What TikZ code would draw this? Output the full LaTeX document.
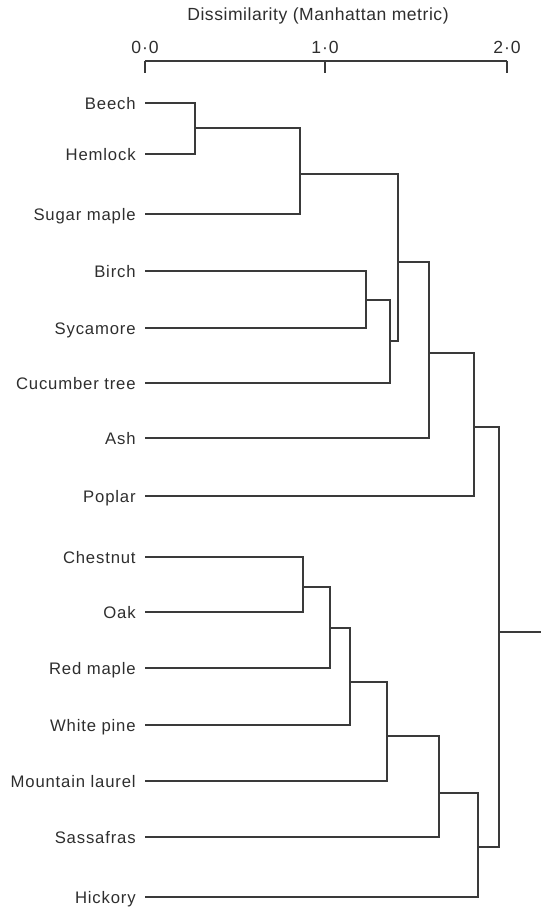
\documentclass[tikz,border=0pt]{standalone}
\usepackage{fontspec}
\setmainfont{Liberation Sans}
\newfontfamily\leaffont[LetterSpace=5,WordSpace=2.3]{Liberation Sans}
\newfontfamily\tickfont[LetterSpace=5]{Liberation Sans}
\newfontfamily\titlefont[LetterSpace=3]{Liberation Sans}
\usetikzlibrary{positioning}
\definecolor{inkLine}{HTML}{3A3A3A}
\definecolor{inkText}{HTML}{2E2E2E}

\begin{document}
\begin{tikzpicture}[
    x=0.02cm, y=-0.02cm,
    branch/.style={draw=inkLine, line width=0.7pt},
    leaflabel/.style={
        anchor=east, inner xsep=0.18cm, inner ysep=0pt,
        text height=7pt, text depth=0pt, text=inkText,
        font=\leaffont\fontsize{9.5}{11}\selectfont
    },
    ticklabel/.style={
        inner sep=0pt, text=inkText,
        font=\tickfont\fontsize{10}{12}\selectfont
    },
    axistitle/.style={
        inner sep=0pt, text=inkText,
        font=\titlefont\fontsize{10}{12}\selectfont
    }
]
    \useasboundingbox (0,0) rectangle (541,909);

    % --- AXIS ---
    \node[axistitle] (title) at (318,16) {Dissimilarity (Manhattan metric)};
    \foreach \v/\xpos in {0/145, 1/325, 2/507} {
        \coordinate (tk\v) at (\xpos,61);
        \draw[branch] (tk\v) -- ++(0,12);
        \node[ticklabel] (lab\v) at (\xpos,47) {\v{}·0};
    }
    \draw[branch] (tk0) -- (tk2);

    % --- LEAVES ---
    \foreach \name/\lab/\ypos in {
        beech/Beech/103,
        hemlock/Hemlock/154,
        sugar/Sugar maple/214,
        birch/Birch/271,
        sycamore/Sycamore/328,
        cucumber/Cucumber tree/383,
        ash/Ash/438,
        poplar/Poplar/496,
        chestnut/Chestnut/557,
        oak/Oak/612,
        redmaple/Red maple/668,
        whitepine/White pine/725,
        laurel/Mountain laurel/781,
        sassafras/Sassafras/837,
        hickory/Hickory/897
    } {
        \node[leaflabel] (\name) at (145,\ypos) {\lab};
    }

    % --- MERGE POINTS ---
    \coordinate (bh)    at (195,128);
    \coordinate (bhs)   at (300,174);
    \coordinate (bs)    at (366,300);
    \coordinate (bsc)   at (390,341);
    \coordinate (upA)   at (398,262);
    \coordinate (upB)   at (429,353);
    \coordinate (upper) at (474,427);
    \coordinate (co)    at (303,587);
    \coordinate (cor)   at (330,628);
    \coordinate (corw)  at (350,682);
    \coordinate (loA)   at (387,736);
    \coordinate (loB)   at (439,793);
    \coordinate (lower) at (478,847);
    \coordinate (root)  at (499,632);
    \coordinate (rootEnd) at (541,632);

    % --- UPPER CLUSTER ---
    \draw[branch] (beech.east) -| (bh) |- (hemlock.east);
    \draw[branch] (bh) -| (bhs) |- (sugar.east);
    \draw[branch] (birch.east) -| (bs) |- (sycamore.east);
    \draw[branch] (bs) -| (bsc) |- (cucumber.east);
    \draw[branch] (bhs) -| (upA) |- (bsc);
    \draw[branch] (upA) -| (upB) |- (ash.east);
    \draw[branch] (upB) -| (upper) |- (poplar.east);

    % --- LOWER CLUSTER ---
    \draw[branch] (chestnut.east) -| (co) |- (oak.east);
    \draw[branch] (co) -| (cor) |- (redmaple.east);
    \draw[branch] (cor) -| (corw) |- (whitepine.east);
    \draw[branch] (corw) -| (loA) |- (laurel.east);
    \draw[branch] (loA) -| (loB) |- (sassafras.east);
    \draw[branch] (loB) -| (lower) |- (hickory.east);

    % --- ROOT ---
    \draw[branch] (upper) -| (root) |- (lower);
    \draw[branch] (root) -- (rootEnd);
\end{tikzpicture}
\end{document}
